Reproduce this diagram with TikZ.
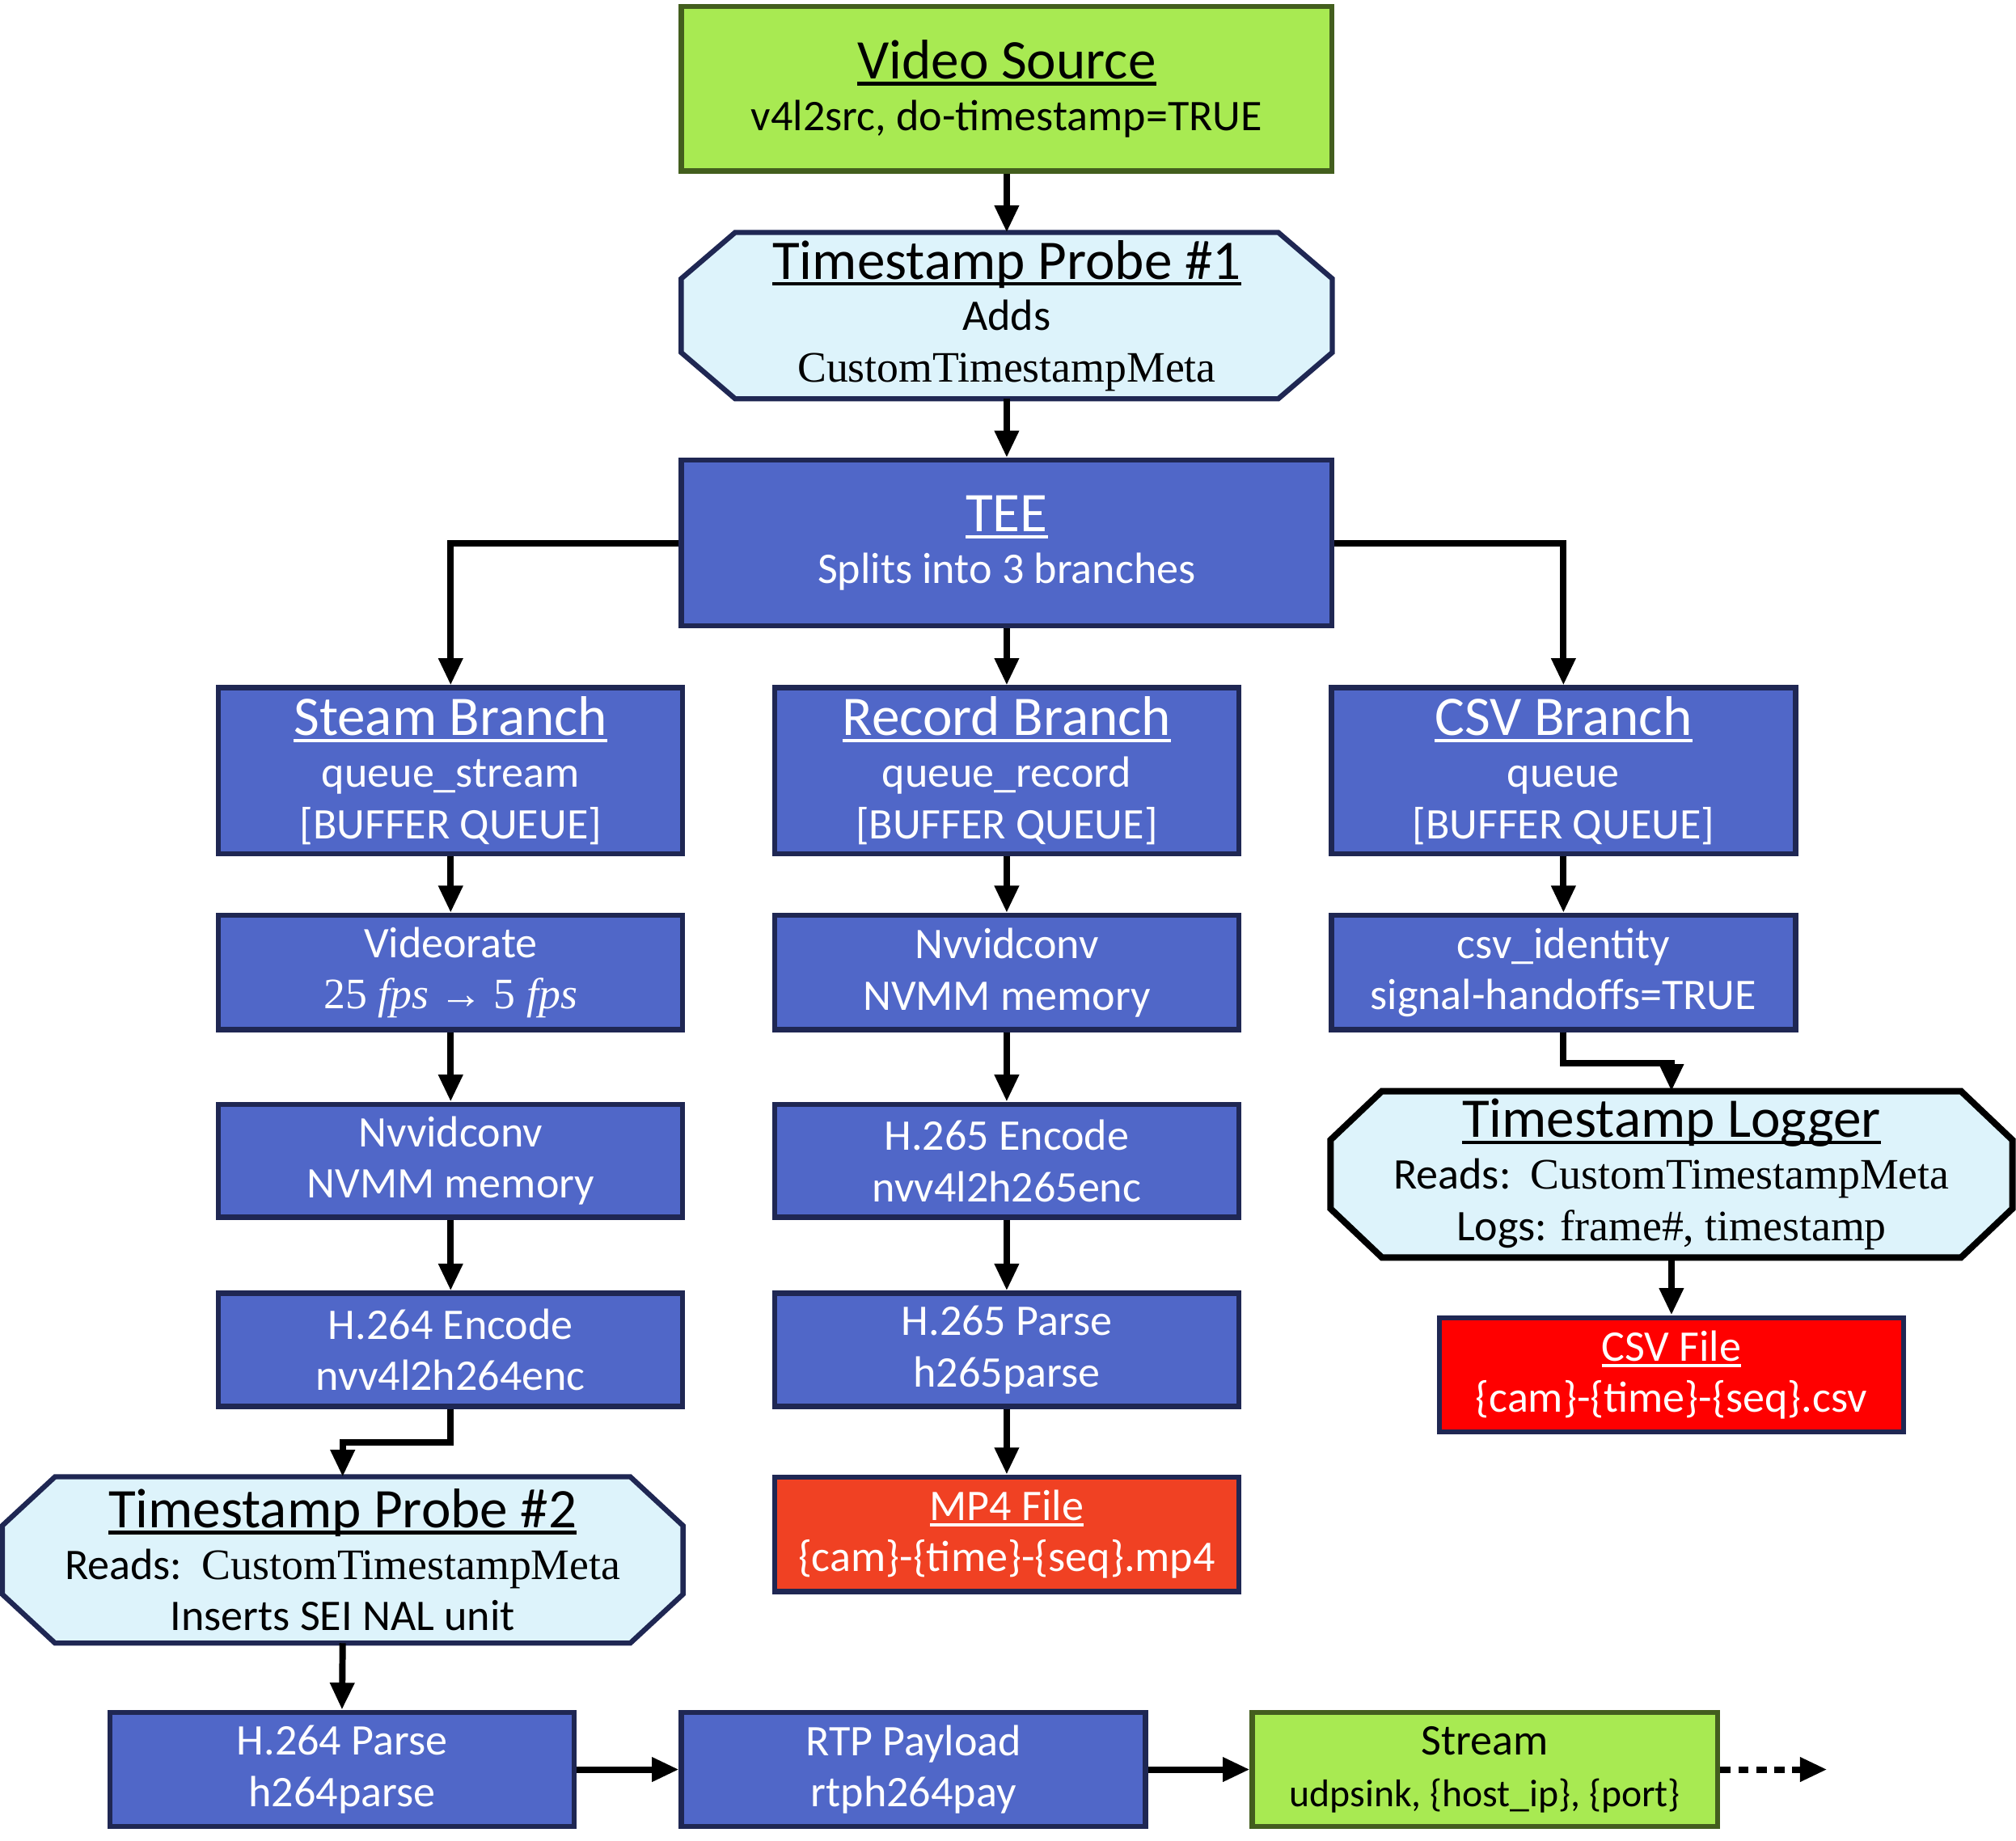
\documentclass[tikz,border=0pt]{standalone}
\usepackage{fontspec}
\setmainfont{Carlito}
\newfontfamily\serifcm{Liberation Serif}
\usetikzlibrary{arrows.meta,backgrounds}
\definecolor{boxblue}{RGB}{80,103,200}
\definecolor{navy}{RGB}{31,39,83}
\definecolor{lgreen}{RGB}{168,234,82}
\definecolor{dgreen}{RGB}{67,94,30}
\definecolor{lblue}{RGB}{221,243,251}
\definecolor{mpred}{RGB}{240,65,35}
\definecolor{csvred}{RGB}{255,0,0}
\newcommand\ulx[1]{\setbox0=\hbox{#1}\rlap{\rule[-5pt]{\wd0}{2.6pt}}\box0}
\newcommand\ttl{\fontsize{43.5}{42}\selectfont}
\newcommand\subf{\fontsize{34}{40}\selectfont}
\newcommand\serf{\serifcm\fontsize{33.8}{40}\selectfont}
\newcommand\octagon[4]{%
  \draw[#4] ([xshift=#2]#1.north west) -- ([xshift=-#2]#1.north east) -- ([yshift=-#3]#1.north east) -- ([yshift=#3]#1.south east) -- ([xshift=-#2]#1.south east) -- ([xshift=#2]#1.south west) -- ([yshift=#3]#1.south west) -- ([yshift=-#3]#1.north west) -- cycle;}
\tikzset{
  base/.style={rectangle, align=center, inner sep=0pt, font=\subf},
  bluebox/.style={base, fill=boxblue, draw=navy, line width=4pt, text=white, minimum width=361pt},
  greenbox/.style={base, fill=lgreen, draw=dgreen, line width=4pt, text=black},
  octnode/.style={base, text=black, draw=none},
  octline/.style={fill=lblue, draw=navy, line width=4pt, line join=miter},
  arr/.style={line width=5pt, -{Triangle[length=21pt,width=18pt]}},
}
\begin{document}
\begin{tikzpicture}[x=1pt,y=-1pt]
\useasboundingbox (0,0) rectangle (1568,1432);
% top column
\node[greenbox, minimum width=506pt, minimum height=128pt] (vs) at (783,69) {\ulx{\ttl Video Source}\\ v4l2src, do-timestamp=TRUE};
\node[octnode, minimum width=506pt, minimum height=129pt] (p1) at (783,245.5) {\ulx{\ttl Timestamp Probe \#1}\\ Adds\\ {\serf CustomTimestampMeta}};
\node[bluebox, minimum width=506pt, minimum height=129pt] (tee) at (783,422.5) {\ulx{\ttl TEE}\\ Splits into 3 branches};
% branches
\node[bluebox, minimum height=129pt] (sb) at (350.5,599.5) {\ulx{\ttl Steam Branch}\\ queue\_stream\\ {[}BUFFER QUEUE{]}};
\node[bluebox, minimum height=129pt] (rb) at (783,599.5) {\ulx{\ttl Record Branch}\\ queue\_record\\ {[}BUFFER QUEUE{]}};
\node[bluebox, minimum height=129pt] (cb) at (1216,599.5) {\ulx{\ttl CSV Branch}\\ queue\\ {[}BUFFER QUEUE{]}};
% row 2
\node[bluebox, minimum height=89pt] (vr) at (350.5,756.5) {Videorate\\ {\serf 25 \textit{fps} → 5 \textit{fps}}};
\node[bluebox, minimum height=89pt] (nv1) at (783,756.5) {Nvvidconv\\ NVMM memory};
\node[bluebox, minimum height=89pt] (cid) at (1216,756.5) {csv\_identity\\ signal-handoffs=TRUE};
% row 3
\node[bluebox, minimum height=88pt] (nv2) at (350.5,903) {Nvvidconv\\ NVMM memory};
\node[bluebox, minimum height=88pt] (h5e) at (783,903) {H.265 Encode\\ nvv4l2h265enc};
\node[octnode, minimum width=530pt, minimum height=129pt] (lg) at (1300,913.5) {\ulx{\ttl Timestamp Logger}\\ Reads:\ \ {\serf CustomTimestampMeta}\\ Logs: {\serf frame\#, timestamp}};
% row 4
\node[bluebox, minimum height=88pt] (h4e) at (350.5,1050) {H.264 Encode\\ nvv4l2h264enc};
\node[bluebox, minimum height=88pt] (h5p) at (783,1050) {H.265 Parse\\ h265parse};
\node[bluebox, fill=csvred, minimum height=89pt] (csv) at (1300,1069.5) {\ulx{CSV File}\\ \{cam\}-\{time\}-\{seq\}.csv};
% row 5
\node[octnode, minimum width=529pt, minimum height=129pt] (p2) at (266.5,1213.5) {\ulx{\ttl Timestamp Probe \#2}\\ Reads:\ \ {\serf CustomTimestampMeta}\\ Inserts SEI NAL unit};
\node[bluebox, fill=mpred, minimum height=89pt] (mp4) at (783,1193.5) {\ulx{MP4 File}\\ \{cam\}-\{time\}-\{seq\}.mp4};
% bottom row
\node[bluebox, minimum height=89pt] (h4p) at (266,1376.5) {H.264 Parse\\ h264parse};
\node[bluebox, minimum height=89pt] (rtp) at (710.5,1376.5) {RTP Payload\\ rtph264pay};
\node[greenbox, minimum width=362pt, minimum height=89pt] (st) at (1155,1376.5) {Stream\\ {\fontsize{30}{38}\selectfont udpsink, \{host\_ip\}, \{port\}}};
\coordinate (out) at (1421,1376.5);
% octagons
\begin{scope}[on background layer]
\octagon{p1}{42pt}{36pt}{octline}
\octagon{p2}{41pt}{38pt}{octline}
\octagon{lg}{40pt}{38pt}{octline, draw=black, line width=5pt}
\end{scope}
% connectors
\draw[arr] (vs) -- (p1);
\draw[arr] (p1) -- (tee);
\draw[arr] (tee.west) -| (sb.north);
\draw[arr] (tee) -- (rb);
\draw[arr] (tee.east) -| (cb.north);
\draw[arr] (sb) -- (vr);
\draw[arr] (vr) -- (nv2);
\draw[arr] (nv2) -- (h4e);
\draw[arr] (h4e.south) -- ++(0,26) -| (p2.north);
\draw[arr] (p2.south) -- (h4p.north);
\draw[arr] (h4p) -- (rtp);
\draw[arr] (rtp) -- (st);
\draw[arr, dash pattern=on 8pt off 6pt] (st.east) -- (out);
\draw[arr] (rb) -- (nv1);
\draw[arr] (nv1) -- (h5e);
\draw[arr] (h5e) -- (h5p);
\draw[arr] (h5p) -- (mp4);
\draw[arr] (cb) -- (cid);
\draw[arr] (cid.south) -- ++(0,24) -| (lg.north);
\draw[arr] (lg.south) -- (csv.north);
\end{tikzpicture}
\end{document}
